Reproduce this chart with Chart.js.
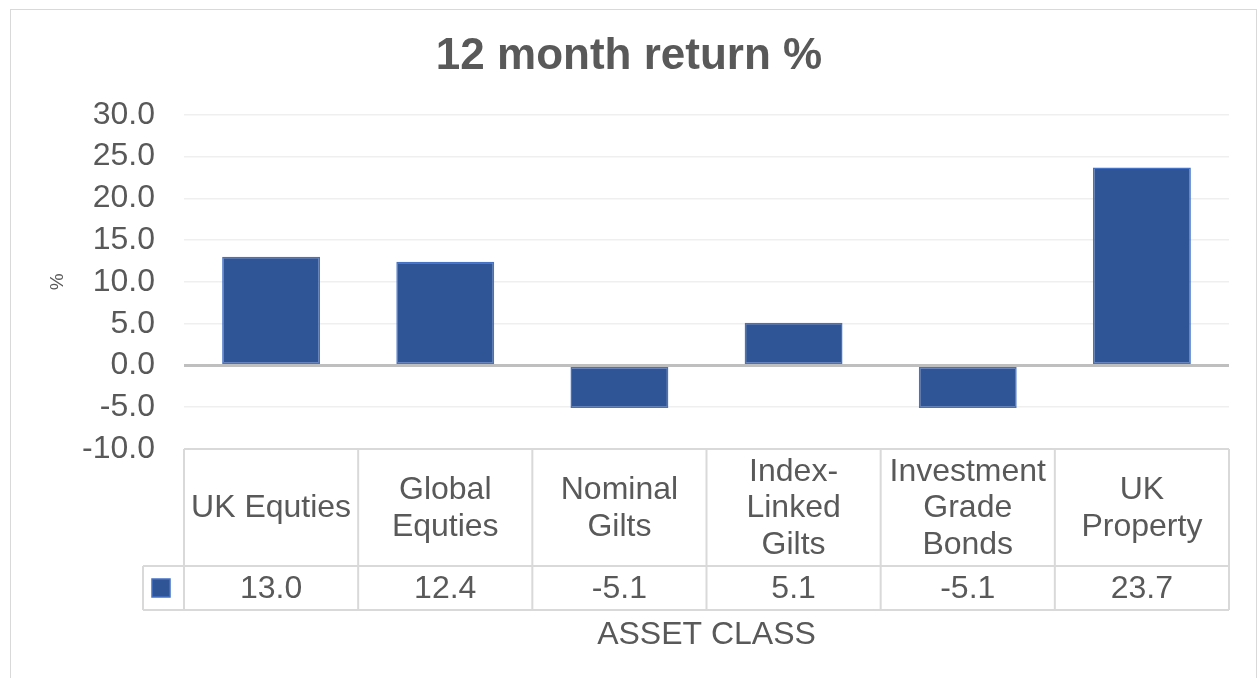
<!DOCTYPE html>
<html>
<head>
<meta charset="utf-8">
<script src="https://cdn.jsdelivr.net/npm/chart.js@4.4.1/dist/chart.umd.min.js"></script>
<style>
  body { margin: 0; background: #fff; }
  #frame { position: absolute; left: 10px; top: 9px; width: 1245px; height: 700px; border: 1px solid #d9d9d9; }
  #wrap { position: absolute; left: 0; top: 0; width: 1258px; height: 678px; }
</style>
</head>
<body>
<div id="frame"></div>
<div id="wrap"><canvas id="chartReturns" width="1258" height="678"></canvas></div>
<script>
// asset classes (multi-line labels as in the data table)
var categorias = [
    'UK Equties',
    ['Global', 'Equties'],
    ['Nominal', 'Gilts'],
    ['Index-', 'Linked', 'Gilts'],
    ['Investment', 'Grade', 'Bonds'],
    ['UK', 'Property']
]
var retornos = [13.0, 12.4, -5.1, 5.1, -5.1, 23.7]
var yMin = -10
var yMax = 30
var yStep = 5

var azul = '#2F5597'
var azulBorde = '#4472C4'
var gris = '#595959'
var fuente = '"Liberation Sans", Arial, sans-serif'

// draws the data table under the plot (legend key + values + cell borders)
var tablaPlugin = {
    id: 'tablaDatos',
    afterDraw: function (chart) {
        let ctx = chart.ctx
        let x = chart.scales.x
        let area = chart.chartArea
        let paso = x.getPixelForValue(1) - x.getPixelForValue(0)
        let arriba = area.bottom
        let medio = arriba + 117
        let abajo = arriba + 161
        let claveIzq = area.left - 41
        ctx.save()
        ctx.strokeStyle = '#d9d9d9'
        ctx.lineWidth = 2
        ctx.beginPath()
        ctx.moveTo(area.left, arriba)
        ctx.lineTo(area.right, arriba)
        ctx.moveTo(claveIzq, medio)
        ctx.lineTo(area.right, medio)
        ctx.moveTo(claveIzq, abajo)
        ctx.lineTo(area.right, abajo)
        ctx.moveTo(claveIzq, medio)
        ctx.lineTo(claveIzq, abajo)
        for (let i = 0; i <= categorias.length; i++) {
            let xx = x.getPixelForValue(0) - paso / 2 + i * paso
            ctx.moveTo(xx, arriba)
            ctx.lineTo(xx, abajo)
        }
        ctx.stroke()

        // legend key
        ctx.fillStyle = azul
        ctx.fillRect(claveIzq + 9, medio + 13, 18, 18)
        ctx.strokeStyle = azulBorde
        ctx.lineWidth = 1.5
        ctx.strokeRect(claveIzq + 9, medio + 13, 18, 18)

        // values row
        ctx.fillStyle = gris
        ctx.font = '32px ' + fuente
        ctx.textAlign = 'center'
        ctx.textBaseline = 'middle'
        retornos.forEach(function (v, i) {
            ctx.fillText(v.toFixed(1), x.getPixelForValue(i), (medio + abajo) / 2 + 1)
        })
        ctx.restore()
    }
}

var ctx = document.getElementById('chartReturns')
var chartReturns = new Chart(ctx, {
    type: 'bar',
    data: {
        labels: categorias,
        datasets: [{
            label: '12 month return %',
            data: retornos,
            backgroundColor: azul,
            borderColor: azulBorde,
            borderWidth: 1.5,
            borderSkipped: false,
            barPercentage: 0.562,
            categoryPercentage: 1
        }]
    },
    options: {
        responsive: false,
        animation: false,
        layout: { padding: 0 },
        plugins: {
            legend: { display: false },
            tooltip: { enabled: false },
            title: {
                display: true,
                text: '12 month return %',
                color: gris,
                font: { family: fuente, size: 44, weight: 'bold' },
                padding: { top: 30, bottom: 32 }
            }
        },
        scales: {
            x: {
                afterFit: function (scale) { scale.height = 229 },
                grid: { display: false },
                border: { display: false },
                ticks: {
                    color: gris,
                    font: { family: fuente, size: 32, lineHeight: 1.14 },
                    crossAlign: 'center',
                    padding: 15,
                    autoSkip: false,
                    maxRotation: 0,
                    minRotation: 0
                },
                title: {
                    display: true,
                    text: 'ASSET CLASS',
                    color: gris,
                    font: { family: fuente, size: 32 },
                    padding: { top: 0, bottom: 24 }
                }
            },
            y: {
                min: yMin,
                max: yMax,
                afterFit: function (scale) { scale.width = 184 },
                border: { display: false },
                grid: {
                    drawTicks: false,
                    color: function (c) {
                        if (c.tick.value === 0) return '#bfbfbf'
                        if (c.tick.value === yMin) return '#d9d9d9'
                        return '#efefef'
                    },
                    lineWidth: function (c) {
                        if (c.tick.value === 0) return 3
                        if (c.tick.value === yMin) return 2
                        return 1.5
                    }
                },
                ticks: {
                    stepSize: yStep,
                    color: gris,
                    padding: 29,
                    font: { family: fuente, size: 32 },
                    callback: function (val) { return val.toFixed(1) }
                },
                title: {
                    display: true,
                    text: '%',
                    color: gris,
                    font: { family: fuente, size: 19 },
                    padding: { top: 46, bottom: 0 }
                }
            },
            // empty right gutter so the title stays centred on the whole frame
            margenDer: {
                type: 'linear',
                position: 'right',
                afterFit: function (scale) { scale.width = 29 },
                grid: { display: false },
                border: { display: false },
                ticks: { display: false }
            }
        }
    },
    plugins: [tablaPlugin]
})
</script>
</body>
</html>
